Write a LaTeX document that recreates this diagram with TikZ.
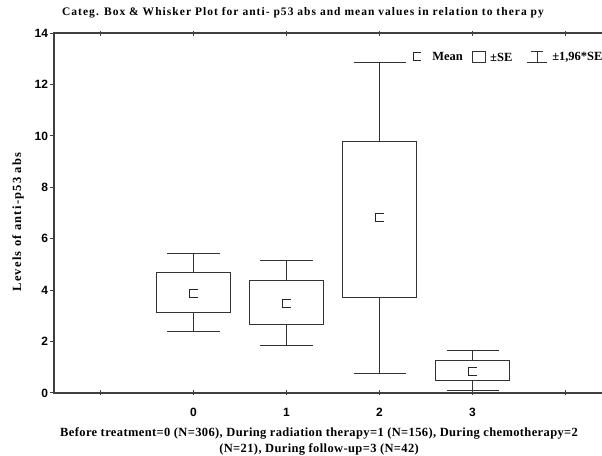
\documentclass[tikz,border=0pt]{standalone}
\usepackage{fontspec}
\setmainfont{Liberation Serif}
\setsansfont{Liberation Sans}

\begin{document}
\begin{tikzpicture}[x=93pt,y=25.71pt,
	axisline/.style={draw=black!75,line width=1.4pt},
	boxline/.style={draw=black!80,line width=0.9pt,fill=white},
	whiskline/.style={draw=black!80,line width=0.9pt},
	meanline/.style={draw=black!85,line width=0.9pt},
	ticklab/.style={font=\sffamily\bfseries\fontsize{12}{14}\selectfont},
	leglab/.style={font=\bfseries\fontsize{12.5}{14}\selectfont,anchor=west,inner sep=0pt}]
	\useasboundingbox (-2.081,-2.450) rectangle (4.392,15.285);

	% frame and ticks
	\draw [axisline] (-1.5,0) rectangle (4.5,14);
	\foreach \v in {0,2,...,14}
		\draw [axisline,line width=1pt] (-1.5,\v) -- ++(-4pt,0)
			node [ticklab,anchor=east,inner sep=1.5pt] (ylab\v) {\v};
	\foreach \c in {-1,...,4} {
		\draw [axisline,line width=1pt] (\c,0) ++(0,-2pt) -- ++(0,5pt);
		\draw [axisline,line width=1pt] (\c,14) ++(0,2pt) -- ++(0,-5pt);
	}
	\foreach \c in {0,...,3}
		\node [ticklab] (xlab\c) at (\c,-0.74) {\c};

	% boxes: category / low whisker / box low / mean / box high / high whisker
	\foreach \c/\lw/\bl/\mn/\bh/\hw in {0/2.38/3.12/3.89/4.68/5.43,
			1/1.84/2.67/3.49/4.37/5.17, 2/0.75/3.71/6.82/9.80/12.85,
			3/0.09/0.48/0.83/1.28/1.67} {
		\draw [whiskline] (\c,\lw) -- (\c,\hw);
		\draw [whiskline] (\c-0.28,\lw) -- (\c+0.28,\lw);
		\draw [whiskline] (\c-0.28,\hw) -- (\c+0.28,\hw);
		\draw [boxline] (\c-0.4,\bl) rectangle (\c+0.4,\bh);
		\draw [meanline] (\c,\mn) ++(4pt,4pt) -- ++(-8pt,0) -- ++(0,-8pt) -- ++(8pt,0);
	}

	% legend
	\draw [meanline] (2.403,13.07) ++(4pt,4pt) -- ++(-8pt,0) -- ++(0,-8pt) -- ++(8pt,0);
	\node [leglab] (legmean) at (2.565,13.07) {Mean};
	\draw [boxline] (3.065,13.07) ++(-6.5pt,-5.5pt) rectangle ++(13pt,11pt);
	\node [leglab] (legse) at (3.188,13.07) {±SE};
	\draw [whiskline] (3.694,13.07) ++(-10pt,-5.5pt) -- ++(20pt,0);
	\draw [whiskline] (3.694,13.07) ++(-6pt,5.5pt) -- ++(12pt,0);
	\draw [whiskline] (3.694,13.07) ++(0,-5.5pt) -- ++(0,11pt);
	\node [leglab] (legci) at (3.855,13.07) {±1,96*SE};

	% texts
	\node [font=\bfseries\fontsize{11.5}{13}\selectfont\addfontfeatures{LetterSpace=9}] (title) at (1.177,14.78)
		{Categ. Box \& Whisker Plot for anti- p53 abs and mean values in relation to thera py};
	\node [rotate=90,font=\bfseries\fontsize{12.5}{14}\selectfont\addfontfeatures{LetterSpace=10}] (ytitle) at (-1.887,6.65)
		{Levels of anti-p53 abs};
	\node [align=center,font=\bfseries\fontsize{12.5}{16}\selectfont\addfontfeatures{LetterSpace=3}] (xtitle) at (1.35,-1.867)
		{Before treatment=0 (N=306), During radiation therapy=1 (N=156), During chemotherapy=2\\
		(N=21), During follow-up=3 (N=42)};
\end{tikzpicture}
\end{document}
